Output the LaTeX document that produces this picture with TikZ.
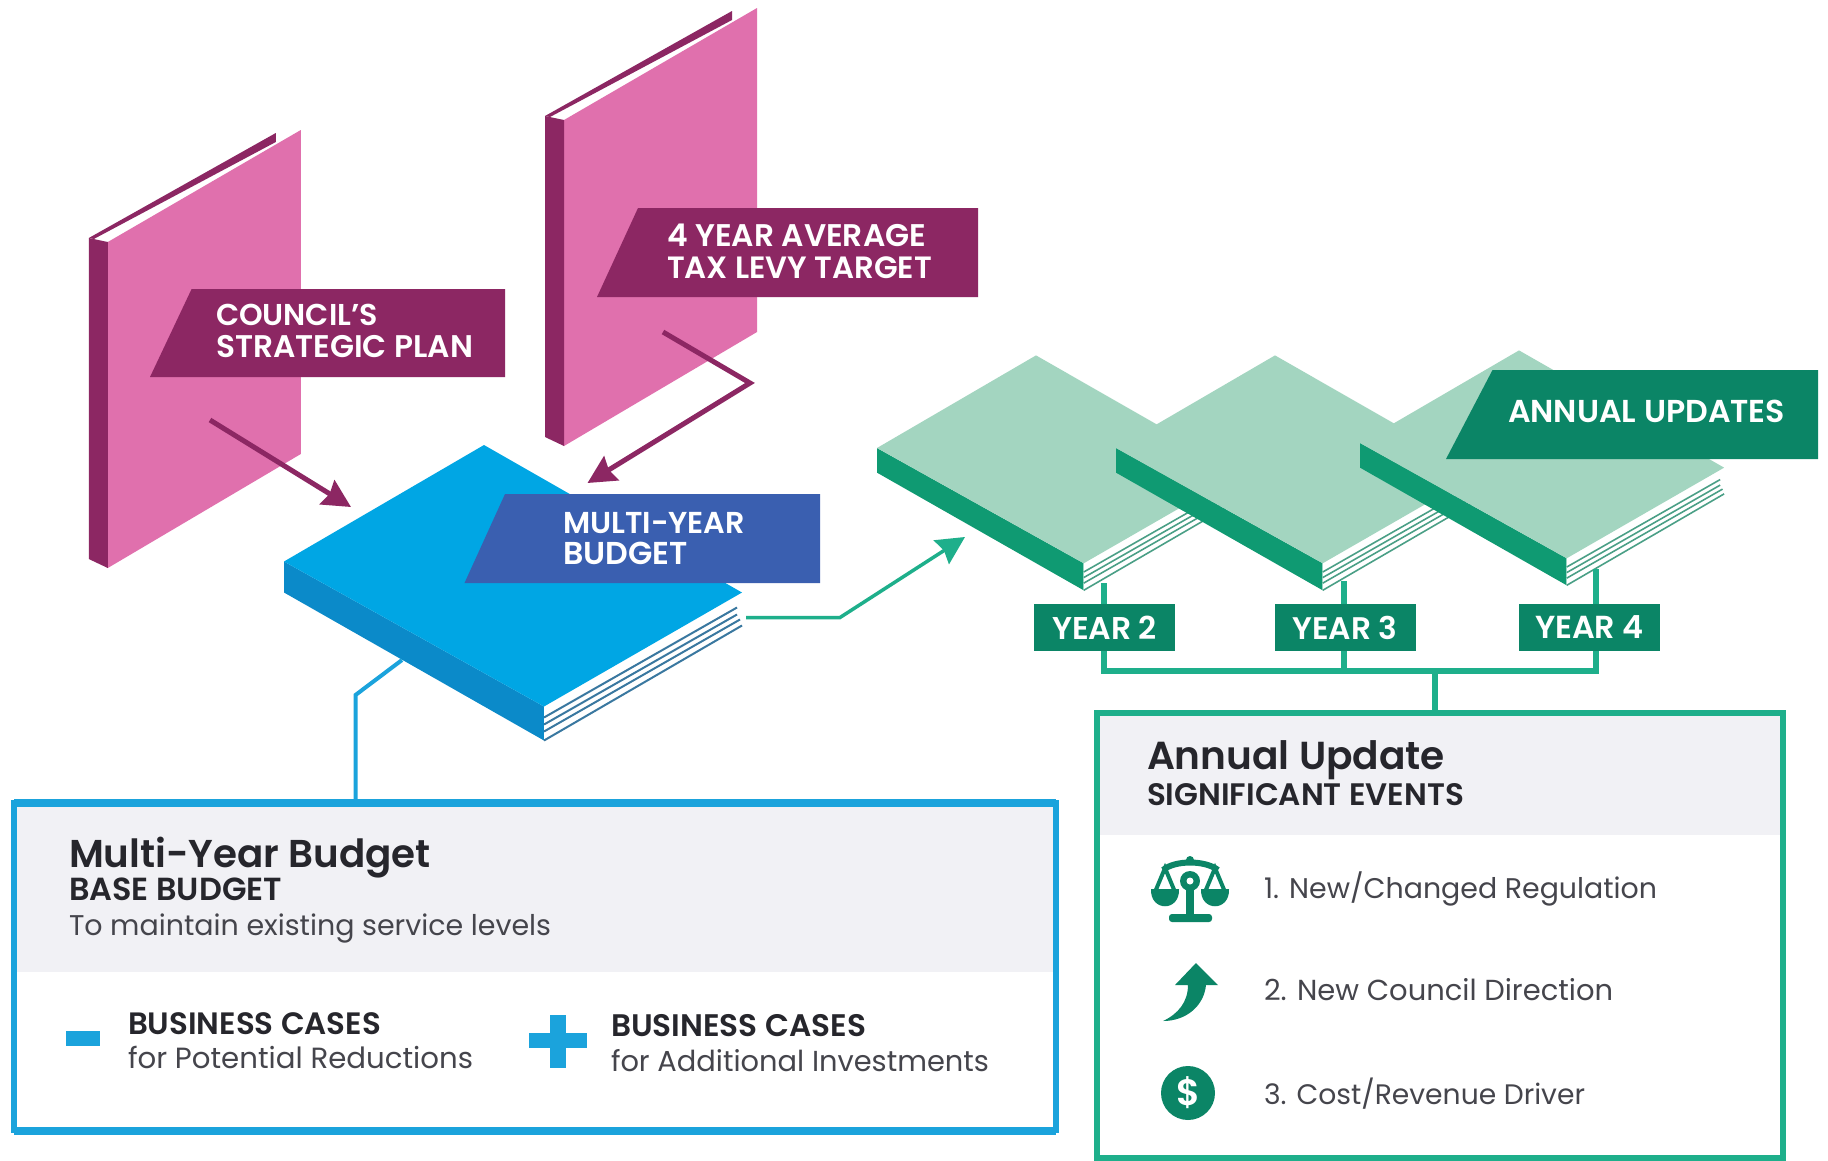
\documentclass[tikz,border=0pt]{standalone}
\usepackage{fontspec}
\setmainfont{Poppins}[BoldFont=* SemiBold]
\usetikzlibrary{arrows.meta}
\definecolor{pinkface}{HTML}{E070AD}
\definecolor{plum}{HTML}{8C2763}
\definecolor{cyanface}{HTML}{00A6E4}
\definecolor{cyanside}{HTML}{0B8AC9}
\definecolor{cyanline}{HTML}{1BA3DC}
\definecolor{cyanink}{HTML}{3A78A0}
\definecolor{royal}{HTML}{3A5FB0}
\definecolor{mintface}{HTML}{A3D5C0}
\definecolor{mintside}{HTML}{0F9A72}
\definecolor{mintink}{HTML}{4A9F86}
\definecolor{teal}{HTML}{0B8566}
\definecolor{tealline}{HTML}{1EAF8B}
\definecolor{band}{HTML}{F1F1F5}
\definecolor{inkdark}{HTML}{26262C}
\definecolor{inkreg}{HTML}{45454C}
\newcommand{\fitw}[2]{\resizebox{#1pt}{!}{#2}}
\newcommand{\isobook}[6]{%
  \begin{scope}[shift={(#1,#2)},scale=#3]
    \fill[#5] (0,0) -- (260,145) -- (260,179) -- (0,31) -- cycle;
    \fill[white] (260,145) -- (458,31) -- (458,64) -- (260,179) -- cycle;
    \draw[#6,line width=#3*2pt] (260,156) -- (453,46);
    \draw[#6,line width=#3*2pt] (260,163) -- (453,53);
    \draw[#6,line width=#3*2pt] (260,170) -- (456,58);
    \draw[#6,line width=#3*2pt] (260,179) -- (458,64);
    \fill[#4] (0,0) -- (200,-116.5) -- (458,31) -- (260,145) -- cycle;
  \end{scope}}
\newcommand{\pinkbook}[2]{%
  \begin{scope}[shift={(#1,#2)}]
    \fill[pinkface] (19,4) -- (212,-108) -- (212,216) -- (19,330) -- cycle;
    \fill[plum] (0,0) -- (19,4) -- (19,330) -- (0,321) -- cycle;
    \fill[plum] (0,0) -- (187,-105) -- (187,-96) -- (5,1) -- cycle;
  \end{scope}}
\tikzset{
  x=1pt,y=-1pt,
  lbl/.style={anchor=base west,inner sep=0pt,outer sep=0pt,text=white,font=\bfseries},
  title/.style={anchor=base west,inner sep=0pt,outer sep=0pt,text=inkdark,font=\bfseries},
  plain/.style={anchor=base west,inner sep=0pt,outer sep=0pt,text=inkreg},
  plumarrow/.style={draw=plum,line width=5pt,-{Stealth[length=28pt,width=28pt,inset=3pt]}},
  tealarrow/.style={draw=tealline,line width=3.5pt,-{Stealth[length=28pt,width=28pt,inset=3pt]}},
  cyanconn/.style={draw=cyanline,line width=4pt},
  tealconn/.style={draw=tealline,line width=6pt},
  yearbox/.style={fill=teal,text=white,font=\bfseries,inner sep=0pt,minimum width=141pt,minimum height=47pt},
  panel/.style={draw,line width=6pt,anchor=north west,inner sep=0pt,outer sep=0pt,fill=none}
}
\begin{document}
\begin{tikzpicture}
\useasboundingbox (0,0) rectangle (1828,1160);
\fill[white] (0,0) rectangle (1828,1160);

% pink books
\pinkbook{88.8}{238}
\pinkbook{545}{116}
\fill[plum] (191.6,289) -- (505,289) -- (505,377) -- (150,377) -- cycle;
\fill[plum] (638,208) -- (978,208) -- (978,297) -- (597,297) -- cycle;
\node[lbl] (t1a) at (216,325.5) {\fitw{162}{COUNCIL’S}};
\node[lbl] (t1b) at (216,357) {\fitw{257}{STRATEGIC PLAN}};
\node[lbl] (t2a) at (667,246) {\fitw{259}{4 YEAR AVERAGE}};
\node[lbl] (t2b) at (667,278) {\fitw{265}{TAX LEVY TARGET}};

% blue book
\isobook{284}{561.5}{1}{cyanface}{cyanside}{cyanink}
\fill[royal] (505,494) -- (820,494) -- (820,583) -- (464.5,583) -- cycle;
\node[lbl] (t3a) at (563,533) {\fitw{182}{MULTI-YEAR}};
\node[lbl] (t3b) at (563,564) {\fitw{124.5}{BUDGET}};

% arrows into the blue book
\coordinate (a1s) at (210,420);
\coordinate (a1e) at (351,507);
\coordinate (a2s) at (663,332);
\coordinate (a2m) at (750,383);
\coordinate (a2e) at (587.5,483);
\draw[plumarrow] (a1s) -- (a1e);
\draw[plumarrow] (a2s) -- (a2m) -- (a2e);

% green books
\isobook{877}{448}{0.795}{mintface}{mintside}{mintink}
\isobook{1116}{448}{0.795}{mintface}{mintside}{mintink}
\isobook{1360}{443}{0.795}{mintface}{mintside}{mintink}
\fill[teal] (1492.5,370) -- (1818,370) -- (1818,459) -- (1446,459) -- cycle;
\node[lbl] (t4) at (1508,422) {\fitw{277}{ANNUAL UPDATES}};

% arrow from blue to green
\coordinate (a3s) at (746,617.5);
\coordinate (a3m) at (840,617.5);
\coordinate (a3e) at (965,537);
\draw[tealarrow] (a3s) -- (a3m) -- (a3e);

% green panel and year connectors
\fill[band] (1097,713) rectangle (1784,835);
\node[panel,draw=tealline,minimum width=686pt,minimum height=445pt] (box2) at (1097,712.7) {};
\coordinate (foot2) at (1104,583);
\coordinate (foot3) at (1344,581);
\coordinate (foot4) at (1595.5,569);
\coordinate (bus2) at (1104,671);
\coordinate (bus3) at (1344,671);
\coordinate (bus4) at (1595.5,671);
\coordinate (trunk) at (1435,671);
\draw[tealconn] (foot2) -- (bus2) -- (bus4) -- (foot4);
\draw[tealconn] (foot3) -- (bus3);
\draw[tealconn] (trunk) -- (trunk |- box2.north);
\node[yearbox] (y2) at (1104.5,627.5) {\fitw{105}{YEAR 2}};
\node[yearbox] (y3) at (1345,627.5) {\fitw{105}{YEAR 3}};
\node[yearbox] (y4) at (1589.5,627.5) {\fitw{109}{YEAR 4}};

% blue panel
\fill[band] (14,803) rectangle (1056,972);
\node[panel,draw=cyanline,line width=5.5pt,minimum width=1042pt,minimum height=327.5pt] (box1) at (14,803) {};
\draw[cyanline,line width=8pt] (box1.north west) -- (box1.north east);
\draw[cyanline,line width=8pt] (box1.south west) -- (box1.south east);
\coordinate (c1) at (402,660);
\coordinate (c2) at (355.5,695);
\draw[cyanconn] (c1) -- (c2) -- (c2 |- box1.north);

\node[title] (b1) at (69,867.5) {\fitw{362}{Multi-Year Budget}};
\node[title] (b2) at (69,900.5) {\fitw{213}{BASE BUDGET}};
\node[plain] (b3) at (69,935) {\fitw{482}{To maintain existing service levels}};
\fill[cyanline] (65.5,1031) rectangle (100,1046);
\fill[cyanline] (550,1015) rectangle (566,1068);
\fill[cyanline] (529,1033) rectangle (587,1048);
\node[title] (b4) at (128,1034) {\fitw{253}{BUSINESS CASES}};
\node[plain] (b5) at (128,1068) {\fitw{345}{for Potential Reductions}};
\node[title] (b6) at (611,1036) {\fitw{255}{BUSINESS CASES}};
\node[plain] (b7) at (611,1071) {\fitw{378}{for Additional Investments}};

% green panel text
\node[title] (u1) at (1147,769) {\fitw{298}{Annual Update}};
\node[title] (u2) at (1147,805) {\fitw{317}{SIGNIFICANT EVENTS}};
\node[plain] (u3) at (1264,898) {\fitw{393}{1. New/Changed Regulation}};
\node[plain] (u4) at (1264,1000) {\fitw{349}{2. New Council Direction}};
\node[plain] (u5) at (1264,1104) {\fitw{321}{3. Cost/Revenue Driver}};

% icon: scales
\draw[teal,line width=6pt] (1163,870) .. controls (1175,860) and (1205,860) .. (1218,870);
\fill[teal] (1190,860) circle[radius=4pt];
\draw[teal,line width=4pt] (1155,892) -- (1165,868) -- (1175,892);
\draw[teal,line width=4pt] (1205,892) -- (1215,868) -- (1225,892);
\fill[teal] (1151,889) .. controls (1150,912) and (1180,912) .. (1179,889) -- cycle;
\fill[teal] (1201,889) .. controls (1200,912) and (1230,912) .. (1229,889) -- cycle;
\fill[teal] (1186,885) rectangle (1194,916);
\fill[teal] (1190,881) circle[radius=10pt];
\fill[white] (1190,881) circle[radius=3.5pt];
\fill[teal,rounded corners=3pt] (1169,914) rectangle (1212,922);

% icon: arrow
\fill[teal] (1196,963) -- (1218,985) -- (1206,985) .. controls (1204,1006) and (1186,1021) .. (1163,1021)
  .. controls (1178,1014) and (1188,1002) .. (1188,985) -- (1175,985) -- cycle;

% icon: dollar
\fill[teal] (1188,1093) circle[radius=27pt];
\node[inner sep=0pt,text=white,font=\bfseries] (dollar) at (1188,1093) {\fitw{24}{\$}};
\end{tikzpicture}
\end{document}
